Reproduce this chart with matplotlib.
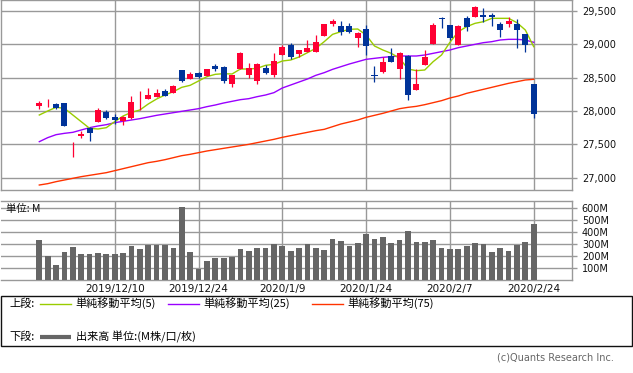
import matplotlib
matplotlib.use("Agg")
import matplotlib.pyplot as plt
from matplotlib.patches import Rectangle
import numpy as np

# ---- data ----
opens = [28080, 28160, 28105, 28115, 27500, 27625, 27745, 27840, 27985, 27910,
         27855, 27900, 28130, 28185, 28215, 28300, 28275, 28610, 28485, 28570,
         28530, 28675, 28660, 28410, 28630, 28545, 28455, 28645, 28540, 28845,
         28990, 28855, 28885, 28885, 29130, 29305, 29275, 29275, 29100, 29230,
         28535, 28590, 28830, 28635, 28830, 28320, 28695, 29010, 29400, 29290,
         28995, 29390, 29405, 29440, 29440, 29300, 29305, 29305, 29155, 28405]
highs = [28150, 28180, 28120, 28125, 27530, 27700, 27765, 28045, 28015, 27955,
         27930, 28220, 28300, 28345, 28330, 28335, 28390, 28620, 28585, 28580,
         28630, 28705, 28675, 28540, 28890, 28720, 28720, 28685, 28870, 28990,
         29020, 28915, 29065, 29145, 29305, 29380, 29355, 29325, 29180, 29290,
         28675, 28815, 28940, 28885, 28840, 28630, 28915, 29315, 29415, 29290,
         29290, 29430, 29575, 29540, 29465, 29330, 29405, 29380, 29155, 28405]
lows = [28035, 28065, 28035, 27780, 27315, 27600, 27555, 27840, 27885, 27800,
        27795, 27875, 28015, 28185, 28215, 28230, 28275, 28440, 28485, 28500,
        28530, 28605, 28425, 28360, 28630, 28500, 28410, 28555, 28510, 28845,
        28780, 28805, 28885, 28885, 29130, 29280, 29140, 29165, 28965, 28845,
        28440, 28575, 28730, 28480, 28165, 28320, 28695, 29000, 29240, 29065,
        28995, 29205, 29405, 29340, 29280, 29115, 29265, 28950, 28890, 27900]
closes = [28120, 28170, 28050, 27780, 27510, 27655, 27675, 28015, 27900, 27865,
          27910, 28135, 28140, 28240, 28270, 28230, 28375, 28450, 28555, 28510,
          28630, 28630, 28450, 28540, 28875, 28645, 28705, 28570, 28750, 28960,
          28810, 28915, 28945, 29035, 29305, 29355, 29190, 29180, 29175, 28980,
          28525, 28735, 28730, 28875, 28245, 28405, 28810, 29290, 29375, 29100,
          29280, 29265, 29565, 29415, 29405, 29215, 29350, 29215, 28995, 27955]
sma5 = [27940, 28000, 28055, 28040, 27940, 27840, 27740, 27730, 27750, 27840,
        27925, 27980, 28015, 28105, 28180, 28240, 28290, 28355, 28385, 28450,
        28515, 28550, 28560, 28555, 28630, 28630, 28640, 28685, 28700, 28750,
        28765, 28810, 28875, 28940, 29040, 29150, 29190, 29225, 29230, 29140,
        28975, 28915, 28865, 28790, 28630, 28605, 28615, 28740, 28840, 29030,
        29190, 29265, 29315, 29340, 29390, 29390, 29390, 29325, 29215, 28965]
sma25 = [27540, 27600, 27645, 27665, 27680, 27715, 27750, 27775, 27795, 27825,
         27845, 27865, 27885, 27910, 27935, 27955, 27975, 27995, 28015, 28035,
         28065, 28090, 28120, 28145, 28170, 28185, 28215, 28240, 28275, 28345,
         28390, 28435, 28480, 28535, 28575, 28625, 28665, 28705, 28740, 28775,
         28790, 28805, 28815, 28825, 28825, 28825, 28840, 28865, 28890, 28915,
         28950, 28975, 29000, 29025, 29040, 29065, 29075, 29075, 29065, 29030]
sma75 = [26890, 26910, 26940, 26965, 26990, 27015, 27035, 27055, 27075, 27105,
         27135, 27165, 27195, 27225, 27245, 27270, 27300, 27330, 27350, 27375,
         27400, 27420, 27440, 27460, 27480, 27500, 27525, 27550, 27575, 27605,
         27630, 27655, 27680, 27705, 27725, 27765, 27805, 27835, 27865, 27905,
         27935, 27965, 28000, 28035, 28055, 28070, 28095, 28125, 28155, 28195,
         28225, 28265, 28295, 28325, 28355, 28385, 28415, 28440, 28465, 28475]
volume = [336, 200, 128, 236, 278, 219, 219, 228, 219, 219,
          228, 286, 261, 294, 294, 294, 269, 608, 236, 94,
          161, 186, 186, 194, 261, 244, 269, 269, 303, 286,
          239, 264, 297, 264, 247, 339, 322, 281, 306, 381,
          339, 356, 306, 331, 406, 314, 314, 331, 264, 256,
          256, 281, 306, 297, 231, 264, 239, 289, 314, 464]
tick_idx = [9, 19, 29, 39, 49, 59]
tick_labels = ["2019/12/10", "2019/12/24", "2020/1/9", "2020/1/24", "2020/2/7", "2020/2/24"]
price_ticks = [27000, 27500, 28000, 28500, 29000, 29500]
vol_ticks = [100, 200, 300, 400, 500, 600]

UP, DOWN = "#ff0033", "#003399"
GRID = "#999999"
JP = ["Noto Sans CJK JP", "DejaVu Sans"]

plt.rcParams['font.family'] = ['DejaVu Sans', 'Noto Sans CJK JP']

W, H = 633, 373
fig = plt.figure(figsize=(W / 100, H / 100), dpi=100)
x = np.arange(len(opens))
xlim = (-4.63, 63.57)

def style_axes(ax):
    for s in ax.spines.values():
        s.set_color(GRID)
        s.set_linewidth(1.0)
    ax.yaxis.tick_right()
    ax.tick_params(axis='y', direction='out', length=3.6, width=1.0, color=GRID,
                   labelsize=7, pad=3.5, labelcolor="#111111")
    ax.set_xticks(tick_idx)
    ax.grid(True, color=GRID, linewidth=1.0)
    ax.set_axisbelow(True)
    ax.set_xlim(*xlim)

# ---- upper panel: candles + moving averages ----
ax = fig.add_axes([0.5 / W, 1 - 190 / H, 571.5 / W, 190 / H])
style_axes(ax)
ax.tick_params(axis='x', length=0, labelbottom=False)
ax.set_ylim(26815, 29665)
ax.set_yticks(price_ticks)
ax.set_yticklabels([f"{v:,}" for v in price_ticks])

ax.plot(x, sma75, color="#ff3300", lw=1.0, zorder=2)
ax.plot(x, sma25, color="#9900ff", lw=1.0, zorder=2)
ax.plot(x, sma5, color="#99cc00", lw=1.0, zorder=2)

o, h, l, c = map(np.array, (opens, highs, lows, closes))
cols = np.where(c >= o, UP, DOWN)
ax.vlines(x, l, h, colors=cols, lw=0.9, zorder=3)
ax.bar(x, np.maximum(np.abs(c - o), 10), bottom=np.minimum(o, c), width=0.72,
       color=cols, linewidth=0, zorder=4)

# ---- lower panel: volume ----
av = fig.add_axes([0.5 / W, 1 - 280 / H, 571.5 / W, 79 / H])
style_axes(av)
av.set_ylim(0, 656)
av.set_yticks(vol_ticks)
av.set_yticklabels([f"{v}M" for v in vol_ticks])
av.bar(x, volume, width=0.68, color="#666666", linewidth=0, zorder=3)
av.set_xticklabels(tick_labels)
av.tick_params(axis='x', length=0, labelsize=7.5, pad=3, labelcolor="#111111")
av.spines['left'].set_visible(False)
av.text(0.01, 0.9, "単位: M", transform=av.transAxes, fontsize=7.5, family=JP,
        va='center', ha='left', color="#111111")

# ---- legend box ----
lg = fig.add_axes([0, 0, 1, 1])
lg.set_xlim(0, W)
lg.set_ylim(H, 0)
lg.axis('off')
lg.add_patch(Rectangle((0.5, 296), 631.5, 50, fill=False, edgecolor="#111111", lw=1.0))
row1, row2 = 303.5, 337
lg.text(9, row1, "上段:", fontsize=8, family=JP, va='center')
lg.text(9, row2, "下段:", fontsize=8, family=JP, va='center')
for x0, col, lab in [(40, "#99cc00", "単純移動平均(5)"),
                     (167.5, "#9900ff", "単純移動平均(25)"),
                     (312, "#ff3300", "単純移動平均(75)")]:
    lg.plot([x0, x0 + 31], [row1, row1], color=col, lw=1.0)
    lg.text(x0 + 35.5, row1, lab, fontsize=8, family=JP, va='center')
lg.plot([40, 71], [row2, row2], color="#666666", lw=3.0, solid_capstyle='butt')
lg.text(75.5, row2, "出来高 単位:(M株/口/枚)", fontsize=8, family=JP, va='center')
lg.text(614, 357, "(c)Quants Research Inc.", fontsize=7, color="#666666",
        ha='right', va='center')

fig.savefig("out.png", dpi=100)
